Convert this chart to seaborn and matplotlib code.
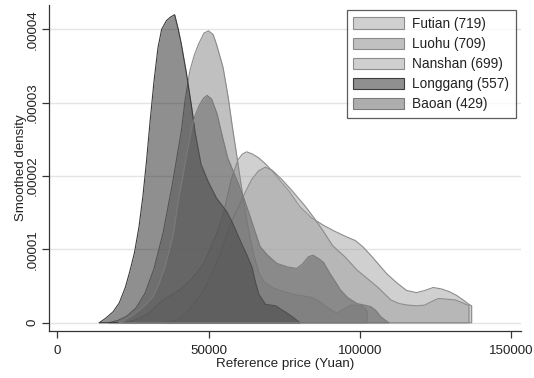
import numpy as np
import pandas as pd
import matplotlib
matplotlib.use("Agg")
import matplotlib.pyplot as plt
from matplotlib.patches import Patch
from matplotlib.colors import to_rgba
import seaborn as sns

# Kernel density curves of reference price by district (density in units of 1e-5)
districts = ["Futian", "Luohu", "Nanshan", "Longgang", "Baoan"]
counts = [719, 709, 699, 557, 429]

price_futian = [22000, 26000, 30000, 35000, 40600, 44500, 48500, 51800, 53500, 55200, 57500, 59700,
                61200, 62600, 64500, 66500, 68700, 71000, 73600, 76500, 80200, 84000, 87900, 91500,
                95600, 98500, 101100, 104000, 106500, 108800, 112000, 115400, 118700, 121500, 124200,
                127000, 129700, 132000, 134100, 136000, 136900, 136900]
dens_futian = [0, 0.04, 0.12, 0.31, 0.45, 0.6, 0.81, 1.13, 1.3, 1.54, 1.95, 2.22,
               2.3, 2.33, 2.3, 2.25, 2.17, 2.07, 1.94, 1.8, 1.58, 1.43, 1.33, 1.25,
               1.17, 1.12, 1.03, 0.9, 0.78, 0.67, 0.55, 0.44, 0.41, 0.44, 0.48,
               0.46, 0.42, 0.37, 0.31, 0.25, 0.23, 0]

price_luohu = [17000, 20000, 23000, 26000, 29000, 32000, 35000, 38000, 41000, 42200, 43800, 45300,
               46700, 48500, 50000, 51500, 52600, 54800, 56500, 57900, 59100, 60500, 62000, 63500,
               65000, 66600, 68500, 71000, 74400, 78900, 82000, 84500, 87000, 89500, 92300, 94500,
               96800, 100200, 101500, 102400, 102400]
dens_luohu = [0, 0.03, 0.09, 0.2, 0.4, 0.74, 1.23, 1.88, 2.61, 3.02, 3.43, 3.65,
              3.8, 3.95, 3.98, 3.93, 3.8, 3.48, 3.07, 2.66, 2.34, 1.95, 1.55, 1.2,
              0.92, 0.68, 0.55, 0.48, 0.43, 0.38, 0.36, 0.34, 0.28, 0.2, 0.13, 0.18,
              0.24, 0.24, 0.2, 0.15, 0]

price_nanshan = [36000, 40000, 43000, 46000, 48500, 51000, 53500, 56000, 57800, 59700, 61900, 64200,
                 66500, 68700, 71000, 74300, 78000, 82100, 85000, 87700, 91000, 95000, 99000, 102500,
                 105700, 108000, 110200, 113000, 115800, 119000, 121400, 123800, 125900, 129000,
                 131500, 134000, 135500, 136000, 136000]
dens_nanshan = [0, 0.04, 0.15, 0.3, 0.45, 0.65, 0.9, 1.2, 1.4, 1.56, 1.76, 1.95,
                2.07, 2.12, 2.08, 1.95, 1.78, 1.58, 1.42, 1.26, 1.05, 0.9, 0.72, 0.6,
                0.49, 0.4, 0.31, 0.26, 0.24, 0.23, 0.24, 0.29, 0.33, 0.32,
                0.31, 0.27, 0.24, 0.24, 0]

price_longgang = [13900, 16000, 18500, 20500, 22500, 24000, 25500, 27000, 28300, 29500, 30700, 32000,
                  33300, 34500, 36100, 37500, 38800, 40000, 41000, 42700, 44400, 45500, 47500, 49800,
                  52600, 55900, 57600, 59300, 61000, 62700, 64400, 65500, 66600, 68800, 70500, 72200,
                  74000, 75600, 78000, 80200]
dens_longgang = [0, 0.06, 0.15, 0.27, 0.48, 0.7, 0.95, 1.3, 1.72, 2.2, 2.75, 3.3,
                 3.75, 4.0, 4.12, 4.17, 4.2, 4.0, 3.8, 3.4, 2.94, 2.61, 2.16, 1.93,
                 1.7, 1.52, 1.39, 1.23, 1.07, 0.92, 0.75, 0.55, 0.39, 0.25, 0.24, 0.23,
                 0.18, 0.14, 0.07, 0]

price_baoan = [20400, 22000, 24900, 28000, 31600, 33500, 35600, 37000, 38400, 40000, 41500, 43000,
               44400, 45500, 47000, 48300, 49500, 51000, 52800, 54500, 56300, 58300, 60000, 61800,
               63700, 65300, 67000, 69500, 72500, 76000, 79100, 81000, 83000, 84500, 86500, 88000,
               90100, 92000, 93500, 96000, 99100, 101500, 103500, 105200, 106900, 108500, 109600]
dens_baoan = [0, 0.03, 0.1, 0.2, 0.35, 0.52, 0.76, 0.98, 1.22, 1.67, 2.0, 2.35,
              2.65, 2.82, 2.97, 3.06, 3.1, 3.05, 2.85, 2.55, 2.25, 2.05, 1.88, 1.68,
              1.45, 1.25, 1.04, 0.92, 0.81, 0.76, 0.74, 0.8, 0.9, 0.92, 0.87, 0.82,
              0.67, 0.55, 0.45, 0.34, 0.26, 0.24, 0.22, 0.17, 0.08, 0.03, 0]

x_ticks = [0, 50000, 100000, 150000]
x_tick_labels = ["0", "50000", "100000", "150000"]
y_ticks_e5 = [0, 1, 2, 3, 4]
y_tick_labels = ["0", ".00001", ".00002", ".00003", ".00004"]

UNIT = 1e-5

curves = {
    "Futian": (price_futian, dens_futian),
    "Luohu": (price_luohu, dens_luohu),
    "Nanshan": (price_nanshan, dens_nanshan),
    "Longgang": (price_longgang, dens_longgang),
    "Baoan": (price_baoan, dens_baoan),
}
frames = []
for name in districts:
    px, dy = curves[name]
    frames.append(pd.DataFrame({"district": name, "price": px,
                                "density": np.array(dy) * UNIT}))
df = pd.concat(frames, ignore_index=True)

fill_colors = {"Futian": "#a2a2a2", "Luohu": "#838383", "Nanshan": "#a0a0a0",
               "Longgang": "#202020", "Baoan": "#5f5f5f"}
edge_colors = {"Futian": "#8c8c8c", "Luohu": "#8a8a8a", "Nanshan": "#8c8c8c",
               "Longgang": "#3c3c3c", "Baoan": "#7a7a7a"}
ALPHA = 0.5

sns.set_theme(style="white")
plt.rcParams["font.family"] = ["Liberation Sans", "DejaVu Sans"]

W, H = 534, 378
fig = plt.figure(figsize=(W / 100, H / 100), dpi=100)
ax = fig.add_axes([48.7 / W, 1 - 331 / H, (521 - 48.7) / W, (331 - 5) / H])

# horizontal grid
for yt in y_ticks_e5:
    ax.axhline(yt * UNIT, color="#e4e4e4", lw=1.0, zorder=1)

for i, name in enumerate(districts):
    sub = df[df["district"] == name]
    ax.fill_between(sub["price"], sub["density"], color=fill_colors[name],
                    alpha=ALPHA, lw=0, zorder=2 + 2 * i)
    closed = pd.concat([sub, sub.iloc[[0]]], ignore_index=True)
    sns.lineplot(data=closed, x="price", y="density", sort=False, estimator=None,
                 color=edge_colors[name], lw=0.8, ax=ax, zorder=3 + 2 * i)

ax.set_xlim(-2800, 153200)
ax.set_ylim(-0.1132 * UNIT, 4.3325 * UNIT)

ax.set_xticks(x_ticks)
ax.set_xticklabels(x_tick_labels)
ax.set_yticks([v * UNIT for v in y_ticks_e5])
ax.set_yticklabels(y_tick_labels, rotation=90, va="center")

ax.tick_params(axis="both", which="major", direction="out", length=5, width=0.9,
               color="#333333", labelsize=9.6, labelcolor="#222222",
               bottom=True, left=True)
ax.tick_params(axis="x", pad=5)
ax.tick_params(axis="y", pad=2)

for side in ["top", "right"]:
    ax.spines[side].set_visible(False)
for side in ["left", "bottom"]:
    ax.spines[side].set_color("#333333")
    ax.spines[side].set_linewidth(0.9)

ax.set_xlabel("Reference price (Yuan)", fontsize=9.6, color="#222222", labelpad=0.5)
ax.set_ylabel("Smoothed density", fontsize=9.6, color="#222222", labelpad=0)

handles = [Patch(facecolor=to_rgba(fill_colors[n], ALPHA), edgecolor=edge_colors[n], lw=0.8)
           for n in districts]
labels = [f"{n} ({c})" for n, c in zip(districts, counts)]
leg = ax.legend(handles, labels, loc="upper right",
                bbox_to_anchor=(515.7 / W, 1 - 10 / H), bbox_transform=fig.transFigure,
                borderaxespad=0, fontsize=9.8, frameon=True, fancybox=False,
                handlelength=3.7, handleheight=0.9, handletextpad=0.6,
                labelspacing=0.45, borderpad=0.5)
leg.get_frame().set_edgecolor("#333333")
leg.get_frame().set_linewidth(0.9)
leg.set_zorder(20)
for t in leg.get_texts():
    t.set_color("#222222")

fig.savefig("out.png", dpi=100)
